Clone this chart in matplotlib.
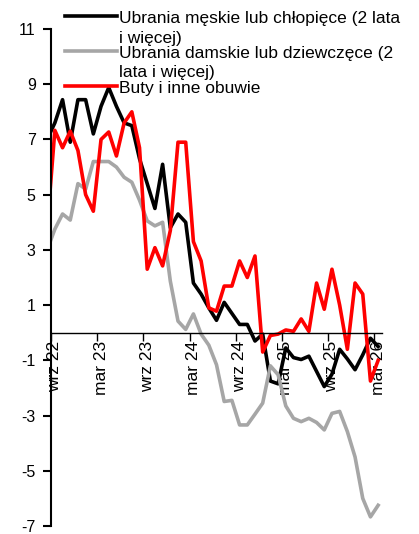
import matplotlib
matplotlib.use("Agg")
import matplotlib.pyplot as plt
from matplotlib.lines import Line2D
import numpy as np
import pandas as pd

plt.rcParams['font.family'] = ['Liberation Sans', 'DejaVu Sans']
plt.rcParams['axes.unicode_minus'] = False

# monthly categories, Aug 2022 .. Mar 2026 (first month sits left of the axis and gets clipped)
months = pd.period_range('2022-08', '2026-03', freq='M')
pl_months = ['sty', 'lut', 'mar', 'kwi', 'maj', 'cze', 'lip', 'sie', 'wrz', 'paź', 'lis', 'gru']
labels = [f"{pl_months[m.month - 1]} {m.year % 100:02d}" for m in months]

men = [7.0, 7.6, 8.44, 6.9, 8.44, 8.44, 7.2, 8.2, 8.88, 8.2, 7.6, 7.5,
       6.3, 5.4, 4.5, 6.1, 3.8, 4.3, 4.0, 1.8, 1.4, 0.9, 0.45, 1.1,
       0.7, 0.3, 0.3, -0.3, -0.05, -1.75, -1.85, -0.55, -0.9, -0.97, -0.85, -1.4,
       -1.95, -1.5, -0.6, -0.95, -1.34, -0.8, -0.2, -0.5]
women = [3.0, 3.75, 4.3, 4.08, 5.4, 5.2, 6.2, 6.2, 6.2, 6.0, 5.63, 5.45,
         4.8, 4.05, 3.87, 4.0, 1.87, 0.42, 0.12, 0.68, -0.05, -0.45, -1.16, -2.49,
         -2.45, -3.34, -3.34, -2.95, -2.55, -1.2, -1.52, -2.65, -3.1, -3.22, -3.1, -3.25,
         -3.52, -2.92, -2.85, -3.58, -4.5, -6.0, -6.67, -6.25]
shoes = [3.8, 7.33, 6.7, 7.3, 6.6, 5.0, 4.4, 7.0, 7.27, 6.4, 7.6, 8.0,
         6.7, 2.3, 3.08, 2.42, 3.7, 6.9, 6.9, 3.3, 2.6, 0.9, 0.78, 1.69,
         1.69, 2.6, 2.0, 2.78, -0.7, -0.1, -0.05, 0.1, 0.05, 0.5, 0.05, 1.8,
         0.85, 2.3, 1.0, -0.6, 1.8, 1.4, -1.75, -1.0]

names = ['Ubrania męskie lub chłopięce (2 lata\ni więcej)',
         'Ubrania damskie lub dziewczęce (2\nlata i więcej)',
         'Buty i inne obuwie']
colors = ['black', '#a6a6a6', '#ff0000']

W, H = 419, 534
fig = plt.figure(figsize=(W / 100, H / 100), dpi=100)
ax = fig.add_axes([51 / W, 8 / H, 331 / W, 497 / H])
ax.set_axisbelow(True)  # series lines run over the zero axis and its labels

x = np.arange(len(months))
for vals, c in zip([men, women, shoes], colors):
    ax.plot(x, vals, color=c, lw=2.6)

ax.set_xlim(0.5, len(months) - 0.5)
ax.set_ylim(-7, 11)

for s in ['top', 'right']:
    ax.spines[s].set_visible(False)
ax.spines['bottom'].set_position(('data', 0))
ax.spines['bottom'].set_linewidth(1.0)
ax.spines['left'].set_linewidth(1.5)

# tick marks on half-year boundaries, labels centred on the months
ax.set_xticks(np.arange(0.5, len(months) - 1, 6))
ax.set_xticklabels([])
ax.set_xticks(x[1::6], minor=True)
ax.set_xticklabels(labels[1::6], minor=True)
ax.tick_params(axis='x', which='major', length=6, width=1, direction='out')
ax.tick_params(axis='x', which='minor', length=0, pad=6, labelrotation=90, labelsize=12.5)

ax.set_yticks(range(-7, 12, 2))
ax.tick_params(axis='y', length=6, width=1.5, pad=5, labelsize=11.5)

# legend drawn by hand so the wrapped labels overlap like the original
leg_y = [16, 50.7, 85.7]
line_step = 19.5
for name, c, yy in zip(names, colors, leg_y):
    fy = 1 - yy / H
    fig.add_artist(Line2D([65 / W, 117 / W], [fy, fy], color=c, lw=2.6))
    for j, part in enumerate(name.split('\n')):
        ty = 1 - (yy + 1 + j * line_step) / H
        fig.text(119 / W, ty, part, fontsize=12.5, va='center_baseline')

fig.savefig('out.png', dpi=100)
